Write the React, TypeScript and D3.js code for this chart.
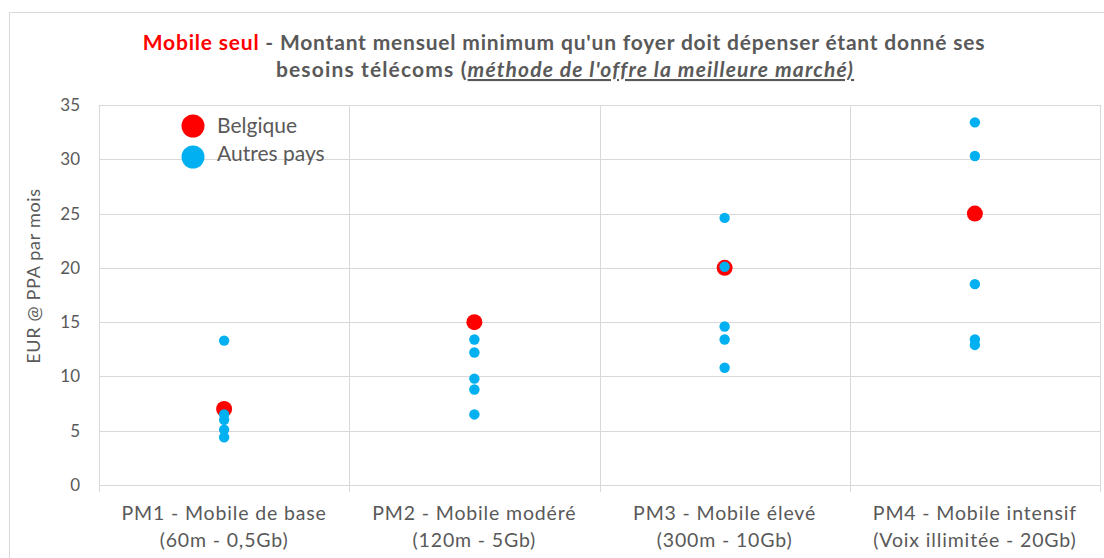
import React from "react";
import * as d3 from "d3";

const categories = ["PM1", "PM2", "PM3", "PM4"];
const labelLine1 = ["PM1 - Mobile de base", "PM2 - Mobile modéré", "PM3 - Mobile élevé", "PM4 - Mobile intensif"];
const labelLine2 = ["(60m - 0,5Gb)", "(120m - 5Gb)", "(300m - 10Gb)", "(Voix illimitée - 20Gb)"];
const belgique = [7.0, 15.0, 20.0, 25.0];
const autresPM1 = [13.3, 6.5, 6.0, 5.1, 4.4];
const autresPM2 = [13.4, 12.2, 9.8, 8.8, 6.5];
const autresPM3 = [24.6, 20.1, 14.6, 13.4, 10.8];
const autresPM4 = [33.4, 30.3, 18.5, 13.4, 12.9];
const autres = [autresPM1, autresPM2, autresPM3, autresPM4];
const yTicks = [0, 5, 10, 15, 20, 25, 30, 35];

const FONT = "Lato, 'Open Sans', sans-serif";
const GREY = "#595959";
const GRID = "#d9d9d9";
const RED = "#ff0000";
const BLUE = "#00b0f0";

export default function App() {
  const W = 1104, H = 558;
  const left = 99, right = 1100, top = 105, bottom = 485;
  const x = d3.scaleBand<string>().domain(categories).range([left, right]).paddingInner(0).paddingOuter(0);
  const y = d3.scaleLinear().domain([0, 35]).range([bottom, top]);
  const bounds = [...categories.map((c) => x(c) as number), right];

  return (
    <svg width={W} height={H} style={{ position: "absolute", left: 0, top: 0 }} fontFamily={FONT}>
      <rect x={0} y={0} width={W} height={H} fill="#fff" />
      <rect x={9.5} y={12.5} width={1110} height={560} fill="none" stroke={GRID} strokeWidth={1} />

      {/* title */}
      <text x={564} y={50} textAnchor="middle" fontSize={21} fontWeight="bold" fill={GREY} letterSpacing={0.8}>
        <tspan fill={RED}>Mobile seul</tspan>
        <tspan> - Montant mensuel minimum qu'un foyer doit dépenser étant donné ses</tspan>
      </text>
      <text x={565} y={77} textAnchor="middle" fontSize={21} fontWeight="bold" fill={GREY} letterSpacing={1.15}>
        <tspan>besoins télécoms (</tspan>
        <tspan fontStyle="italic" textDecoration="underline">méthode de l'offre la meilleure marché)</tspan>
      </text>

      {/* gridlines */}
      {yTicks.map((t) => (
        <line key={"g" + t} x1={left} x2={right} y1={Math.round(y(t)) + 0.5} y2={Math.round(y(t)) + 0.5} stroke={GRID} strokeWidth={1} />
      ))}
      {bounds.map((b, i) => (
        <line key={"v" + i} x1={Math.round(b) + 0.5} x2={Math.round(b) + 0.5} y1={top} y2={bottom + 7} stroke={GRID} strokeWidth={1} />
      ))}

      {/* y tick labels */}
      {yTicks.map((t) => (
        <text key={"t" + t} x={80} y={y(t) + 6} textAnchor="end" fontSize={17} fill={GREY}>
          {t}
        </text>
      ))}
      <text transform={`translate(40,276) rotate(-90)`} textAnchor="middle" fontSize={18} fill={GREY} letterSpacing={0.7}>
        EUR @ PPA par mois
      </text>

      {/* x labels */}
      {categories.map((c, i) => {
        const cx = (x(c) as number) + x.bandwidth() / 2;
        return (
          <g key={"xl" + c}>
            <text x={cx} y={520} textAnchor="middle" fontSize={19.5} fill={GREY} letterSpacing={0.85}>{labelLine1[i]}</text>
            <text x={cx} y={547} textAnchor="middle" fontSize={19.5} fill={GREY} letterSpacing={0.85}>{labelLine2[i]}</text>
          </g>
        );
      })}

      {/* points */}
      {categories.map((c, i) => (
        <circle key={"b" + c} cx={(x(c) as number) + x.bandwidth() / 2} cy={y(belgique[i])} r={8} fill={RED} />
      ))}
      {categories.map((c, i) =>
        autres[i].map((v, j) => (
          <circle key={"a" + c + j} cx={(x(c) as number) + x.bandwidth() / 2} cy={y(v)} r={5.2} fill={BLUE} />
        ))
      )}

      {/* legend */}
      <circle cx={193} cy={126} r={11.5} fill={RED} />
      <circle cx={193} cy={157} r={11.5} fill={BLUE} />
      <text x={217} y={133} fontSize={21} fill={GREY}>Belgique</text>
      <text x={217} y={161} fontSize={21} fill={GREY}>Autres pays</text>
    </svg>
  );
}
